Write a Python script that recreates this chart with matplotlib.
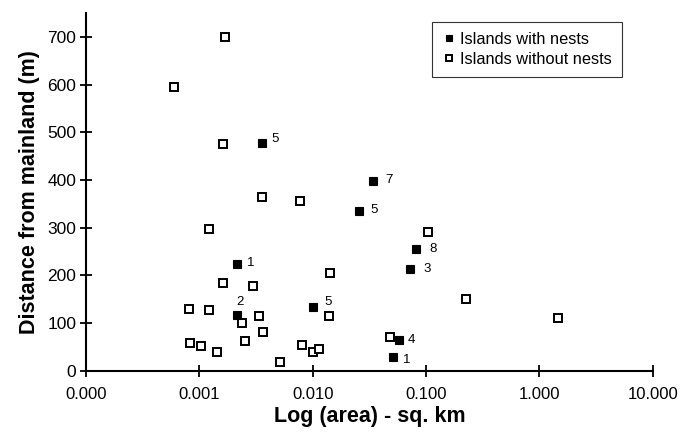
import matplotlib
matplotlib.use("Agg")
import matplotlib.pyplot as plt
from matplotlib.ticker import FixedLocator, FixedFormatter

plt.rcParams['font.family'] = ['Liberation Sans', 'DejaVu Sans']

# islands with nests: area (sq. km), distance (m), number of nests
nest_area = [0.00359, 0.0337, 0.0257, 0.00216, 0.00216, 0.0101, 0.0820, 0.0726, 0.0581, 0.0514]
nest_dist = [478, 397, 334, 223, 117, 133, 255, 213, 64, 29]
nest_count = ["5", "7", "5", "1", "2", "5", "8", "3", "4", "1"]

# islands without nests
open_area = [0.000601, 0.00170, 0.00162, 0.00359, 0.00767, 0.00121, 0.00163, 0.00297,
             0.01436, 0.000816, 0.00122, 0.00239, 0.00335, 0.00362, 0.00255, 0.01406,
             0.000821, 0.00103, 0.00144, 0.00518, 0.0080, 0.0101, 0.01146, 0.1043,
             0.226, 1.45, 0.048]
open_dist = [595, 700, 475, 364, 355, 298, 184, 177, 205, 130, 127, 99, 114, 81, 62, 114,
             57, 51, 40, 19, 54, 40, 45, 290, 150, 110, 71]

x_ticks = [0.0001, 0.001, 0.01, 0.1, 1, 10]
x_tick_labels = ["0.000", "0.001", "0.010", "0.100", "1.000", "10.000"]
y_ticks = [0, 100, 200, 300, 400, 500, 600, 700]

# label offsets in points (dx, dy)
label_offsets = [(9, 3), (12, 1), (11, 1), (10, 1), (2, 9), (11, 4), (12, 0), (12, 0), (9, 0), (10, -2)]

fig = plt.figure(figsize=(6.93, 4.33), dpi=100)
ax = fig.add_axes([0.124, 0.144, 0.818, 0.826])

ax.plot(open_area, open_dist, linestyle="none", marker="s", markersize=5.2,
        markerfacecolor="white", markeredgecolor="black", markeredgewidth=1.4,
        label="Islands without nests", zorder=3)
ax.plot(nest_area, nest_dist, linestyle="none", marker="s", markersize=6.0,
        markerfacecolor="black", markeredgecolor="black", markeredgewidth=0.8,
        label="Islands with nests", zorder=4)

for x, y, t, off in zip(nest_area, nest_dist, nest_count, label_offsets):
    ax.annotate(t, (x, y), xytext=off, textcoords="offset points",
                ha="center", va="center", fontsize=9.5)

ax.set_xscale("log")
ax.set_xlim(0.0001, 10)
ax.set_ylim(0, 750)
ax.xaxis.set_major_locator(FixedLocator(x_ticks))
ax.xaxis.set_major_formatter(FixedFormatter(x_tick_labels))
ax.xaxis.set_minor_locator(FixedLocator([]))
ax.set_yticks(y_ticks)

ax.spines["top"].set_visible(False)
ax.spines["right"].set_visible(False)
ax.spines["left"].set_linewidth(1.5)
ax.spines["bottom"].set_linewidth(1.5)
ax.tick_params(direction="inout", length=8, width=1.3)
ax.tick_params(axis="x", labelsize=12, pad=8)
ax.tick_params(axis="y", labelsize=12.5, pad=3)

ax.set_xlabel("Log (area) - sq. km", fontsize=15.5, fontweight="bold", labelpad=3)
ax.set_ylabel("Distance from mainland (m)", fontsize=15.5, fontweight="bold", labelpad=5)

handles, labels = ax.get_legend_handles_labels()
leg = ax.legend(handles[::-1], labels[::-1], loc="upper right", bbox_to_anchor=(0.945, 0.975),
                fontsize=11.8, frameon=True, fancybox=False, handlelength=0.8,
                handletextpad=0.3, borderpad=0.6, labelspacing=0.3, markerscale=0.75,
                borderaxespad=0)
leg.get_frame().set_edgecolor("black")
leg.get_frame().set_linewidth(0.8)

fig.savefig("out.png", dpi=100)
